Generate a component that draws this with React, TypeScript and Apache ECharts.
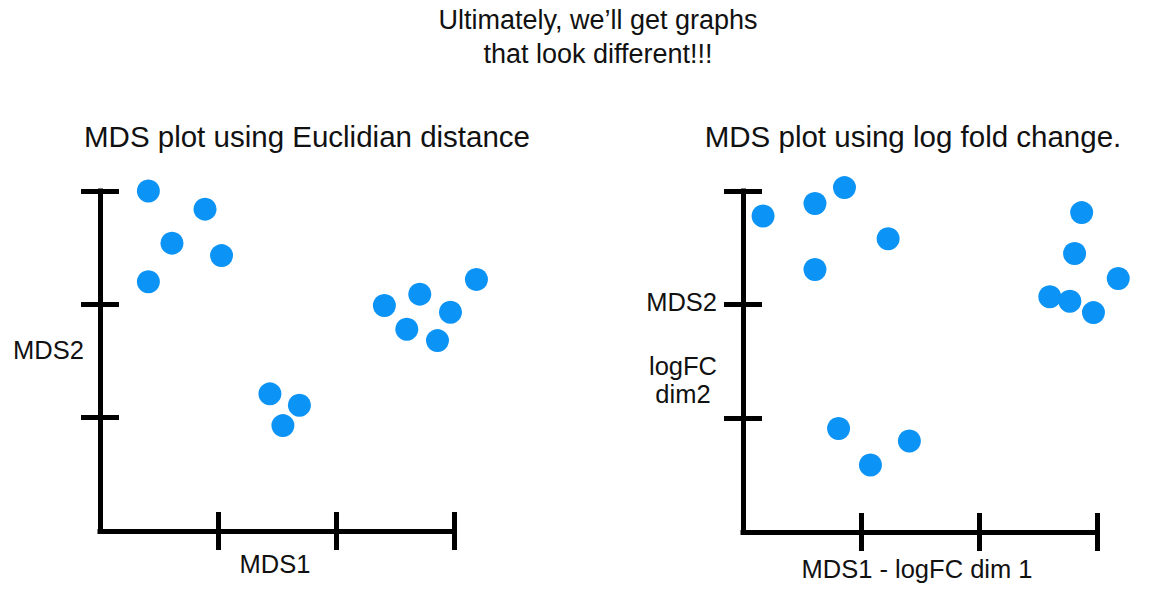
import React, { useEffect, useRef } from "react";
import * as echarts from "echarts";

const mainTitleLines = ["Ultimately, we\u2019ll get graphs", "that look different!!!"];
const leftTitle = "MDS plot using Euclidian distance";
const rightTitle = "MDS plot using log fold change.";
const tickValues = [1, 2, 3];

const euclidX = [0.41, 0.89, 0.61, 1.03, 0.41, 2.41, 2.71, 3.19, 2.60, 2.97, 2.86, 1.44, 1.69, 1.55];
const euclidY = [3.0, 2.84, 2.54, 2.43, 2.2, 1.99, 2.09, 2.22, 1.78, 1.93, 1.68, 1.21, 1.11, 0.93];

const logfcX = [0.17, 0.61, 0.86, 1.23, 0.61, 2.87, 2.81, 3.18, 2.6, 2.77, 2.97, 0.81, 1.41, 1.08];
const logfcY = [2.78, 2.89, 3.03, 2.58, 2.31, 2.81, 2.45, 2.23, 2.07, 2.03, 1.93, 0.91, 0.8, 0.59];

const FONT = "Liberation Sans, Arial, Helvetica, sans-serif";
const DOT = "#0b93f6";
const INK = "#000000";

function makeAxis(kind: "x" | "y", gridIndex: number, inside: boolean) {
  return {
    type: "value",
    gridIndex,
    position: kind === "x" ? "bottom" : "left",
    offset: 0,
    min: 0,
    max: 3,
    interval: 1,
    axisLine: {
      show: !inside,
      onZero: false,
      lineStyle: { color: INK, width: 5, cap: "square" },
    },
    axisTick: {
      show: true,
      inside,
      length: 19,
      customValues: tickValues,
      lineStyle: { color: INK, width: 5 },
    },
    axisLabel: { show: false },
    splitLine: { show: false },
  };
}

export default function App() {
  const ref = useRef<HTMLDivElement>(null);
  useEffect(() => {
    if (!ref.current) return;
    const chart = echarts.init(ref.current, undefined, { renderer: "svg" });
    const textStyle = (extra: any) => ({ fill: "#111", fontFamily: FONT, ...extra });
    chart.setOption({
      animation: false,
      backgroundColor: "#ffffff",
      grid: [
        { left: 100, top: 191, width: 354, height: 340 },
        { left: 743, top: 191, width: 354, height: 341 },
      ],
      xAxis: [makeAxis("x", 0, false), makeAxis("x", 0, true), makeAxis("x", 1, false), makeAxis("x", 1, true)],
      yAxis: [makeAxis("y", 0, false), makeAxis("y", 0, true), makeAxis("y", 1, false), makeAxis("y", 1, true)],
      series: [
        {
          type: "scatter",
          xAxisIndex: 0,
          yAxisIndex: 0,
          clip: false,
          symbolSize: 23,
          itemStyle: { color: DOT, opacity: 1 },
          data: euclidX.map((x, i) => [x, euclidY[i]]),
        },
        {
          type: "scatter",
          xAxisIndex: 2,
          yAxisIndex: 2,
          clip: false,
          symbolSize: 23,
          itemStyle: { color: DOT, opacity: 1 },
          data: logfcX.map((x, i) => [x, logfcY[i]]),
        },
      ],
      graphic: [
        { type: "text", x: 598, y: 20, style: textStyle({ text: mainTitleLines[0], fontSize: 27, align: "center", verticalAlign: "middle" }) },
        { type: "text", x: 598, y: 54, style: textStyle({ text: mainTitleLines[1], fontSize: 27, align: "center", verticalAlign: "middle" }) },
        { type: "text", x: 307, y: 136, style: textStyle({ text: leftTitle, fontSize: 29.5, align: "center", verticalAlign: "middle" }) },
        { type: "text", x: 913, y: 136, style: textStyle({ text: rightTitle, fontSize: 29.5, align: "center", verticalAlign: "middle" }) },
        { type: "text", x: 275, y: 564, style: textStyle({ text: "MDS1", fontSize: 25.5, align: "center", verticalAlign: "middle" }) },
        { type: "text", x: 917, y: 569, style: textStyle({ text: "MDS1 - logFC dim 1", fontSize: 25.5, align: "center", verticalAlign: "middle" }) },
        { type: "text", x: 13, y: 350, style: textStyle({ text: "MDS2", fontSize: 25.5, align: "left", verticalAlign: "middle" }) },
        { type: "text", x: 717, y: 302, style: textStyle({ text: "MDS2", fontSize: 25.5, align: "right", verticalAlign: "middle" }) },
        { type: "text", x: 683, y: 366, style: textStyle({ text: "logFC", fontSize: 25.5, align: "center", verticalAlign: "middle" }) },
        { type: "text", x: 683, y: 394, style: textStyle({ text: "dim2", fontSize: 25.5, align: "center", verticalAlign: "middle" }) },
      ],
    });
    return () => chart.dispose();
  }, []);
  return <div ref={ref} style={{ position: "fixed", left: 0, top: 0, width: 1150, height: 600 }} />;
}
